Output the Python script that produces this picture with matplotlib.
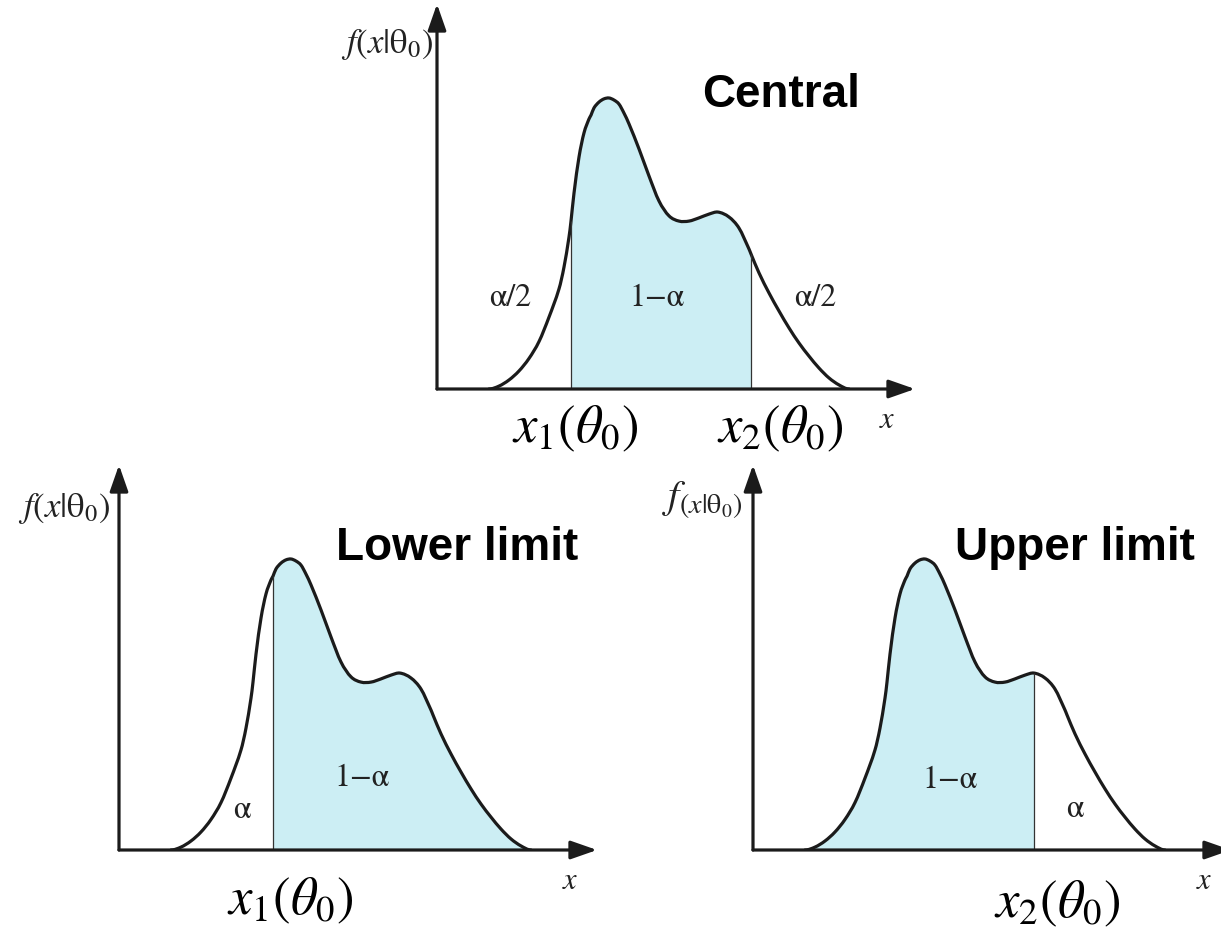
import numpy as np
import matplotlib
matplotlib.use("Agg")
import matplotlib.pyplot as plt
from matplotlib.path import Path
from matplotlib.patches import PathPatch

plt.rcParams["mathtext.fontset"] = "stix"

W, H = 1221, 928
DPI = 100

# Shape of the density f(x|theta0), shared by all three panels (peak = 100)
curve_x = [0, 1, 2, 3, 4, 5, 6, 7, 7.5, 8, 8.2, 8.5, 9, 9.5, 10, 10.2, 10.5, 11, 11.5,
           12, 12.5, 13, 13.5, 14, 15, 16, 17, 18, 19, 20, 21, 22, 22.9, 24, 25, 26,
           26.2, 27, 28, 29, 30, 31, 32, 33, 34, 35, 36]
curve_f = [0, 1.0, 3.1, 6.2, 10.5, 16.3, 24.7, 34.4, 41.9, 52.2, 57.7, 67.3, 79.7, 88.0,
           92.8, 94.1, 96.6, 98.6, 99.7, 100, 99.3, 97.9, 94.8, 91.1, 82.5, 73.2, 64.6,
           59.5, 57.7, 57.7, 58.8, 60.1, 60.8, 59.1, 55.3, 48.1, 46.4, 39.9, 33.0, 26.8,
           21.0, 15.8, 11.3, 7.2, 3.8, 1.4, 0]

# Interval boundaries for each construction
central_x1, central_x2 = 8.2, 26.2
lower_x1 = 10.2
upper_x2 = 22.9

panel_titles = ["Central", "Lower limit", "Upper limit"]

INK = "#1b1b1b"
FILL = "#cceef4"

x = np.array(curve_x, dtype=float)
f = np.array(curve_f, dtype=float)

# tangent slopes for a smooth (cubic Bezier) rendering through the points
slope = np.zeros_like(f)
slope[1:-1] = (f[2:] - f[:-2]) / (x[2:] - x[:-2])


def smooth_path_parts(i0, i1):
    verts = [(x[i0], f[i0])]
    codes = [Path.MOVETO]
    for i in range(i0, i1):
        h = x[i + 1] - x[i]
        verts += [(x[i] + h / 3, f[i] + slope[i] * h / 3),
                  (x[i + 1] - h / 3, f[i + 1] - slope[i + 1] * h / 3),
                  (x[i + 1], f[i + 1])]
        codes += [Path.CURVE4] * 3
    return verts, codes


fig = plt.figure(figsize=(W / DPI, H / DPI), dpi=DPI)


def fx(px):
    return px / W


def fy(py):
    return 1 - py / H


XLO, XHI = -5.2, 42.6
YHI = 132.3


def make_panel(ox, oy):
    ax = fig.add_axes([fx(ox), fy(oy), 478 / W, 385 / H])
    ax.set_xlim(XLO, XHI)
    ax.set_ylim(0, YHI)
    ax.axis("off")
    arrow = dict(arrowstyle="-|>,head_length=0.8,head_width=0.28",
                 mutation_scale=20, lw=2.3, color=INK, shrinkA=0, shrinkB=0)
    ax.annotate("", xy=(XHI, 0), xytext=(XLO, 0), arrowprops=arrow,
                annotation_clip=False)
    ax.annotate("", xy=(XLO, YHI), xytext=(XLO, 0), arrowprops=arrow,
                annotation_clip=False)
    return ax


def shade(ax, lo, hi):
    i0, i1 = curve_x.index(lo), curve_x.index(hi)
    verts, codes = smooth_path_parts(i0, i1)
    verts += [(x[i1], 0), (x[i0], 0), (x[i0], f[i0])]
    codes += [Path.LINETO, Path.LINETO, Path.CLOSEPOLY]
    ax.add_patch(PathPatch(Path(verts, codes), facecolor=FILL, lw=0))


def cut(ax, at):
    i = curve_x.index(at)
    ax.vlines(at, 0, curve_f[i], color="#333333", lw=0.9)


def curve(ax):
    verts, codes = smooth_path_parts(0, len(curve_x) - 1)
    ax.add_patch(PathPatch(Path(verts, codes), facecolor="none", edgecolor=INK,
                           lw=2.3, joinstyle="round", capstyle="round"))


serif = dict(family="STIXGeneral", color="#222222")
title_kw = dict(family="Liberation Sans", weight="bold", fontsize=33, color="black",
                ha="center", va="center")
xlab_kw = dict(fontsize=38, ha="center", va="center", color="black")

# --- Central interval ---
ax_c = make_panel(437, 390)
shade(ax_c, central_x1, central_x2)
cut(ax_c, central_x1)
cut(ax_c, central_x2)
curve(ax_c)
fig.text(fx(781), fy(95), panel_titles[0], **title_kw)
fig.text(fx(510), fy(298), "α/2", fontsize=23, ha="center", va="center", **serif)
fig.text(fx(657), fy(298), "1−α", fontsize=23, ha="center", va="center", **serif)
fig.text(fx(815), fy(298), "α/2", fontsize=23, ha="center", va="center", **serif)
fig.text(fx(575), fy(428), r"$x_1(\theta_0)$", **xlab_kw)
fig.text(fx(780), fy(428), r"$x_2(\theta_0)$", **xlab_kw)
fig.text(fx(887), fy(420), r"$x$", fontsize=22, ha="center", va="center", color="#222222")
fig.text(fx(433), fy(45), r"$f(x|\mathrm{\theta}_0)$", fontsize=25, ha="right",
         va="center", color="#222222")

# --- Lower limit ---
ax_l = make_panel(119, 851)
shade(ax_l, lower_x1, curve_x[-1])
cut(ax_l, lower_x1)
curve(ax_l)
fig.text(fx(457), fy(548), panel_titles[1], **title_kw)
fig.text(fx(242), fy(810), "α", fontsize=23, ha="center", va="center", **serif)
fig.text(fx(362), fy(778), "1−α", fontsize=23, ha="center", va="center", **serif)
fig.text(fx(290), fy(900), r"$x_1(\theta_0)$", **xlab_kw)
fig.text(fx(570), fy(881), r"$x$", fontsize=22, ha="center", va="center", color="#222222")
fig.text(fx(110), fy(508), r"$f(x|\mathrm{\theta}_0)$", fontsize=25, ha="right",
         va="center", color="#222222")

# --- Upper limit ---
ax_u = make_panel(753, 851)
shade(ax_u, curve_x[0], upper_x2)
cut(ax_u, upper_x2)
curve(ax_u)
fig.text(fx(1075), fy(548), panel_titles[2], **title_kw)
fig.text(fx(950), fy(780), "1−α", fontsize=23, ha="center", va="center", **serif)
fig.text(fx(1075), fy(809), "α", fontsize=23, ha="center", va="center", **serif)
fig.text(fx(1057), fy(903), r"$x_2(\theta_0)$", **xlab_kw)
fig.text(fx(1204), fy(881), r"$x$", fontsize=22, ha="center", va="center", color="#222222")
fig.text(fx(742), fy(500), r"$f_{(x|\mathrm{\theta}_0)}$", fontsize=29, ha="right",
         va="center", color="#222222")

fig.savefig("out.png", dpi=DPI)
